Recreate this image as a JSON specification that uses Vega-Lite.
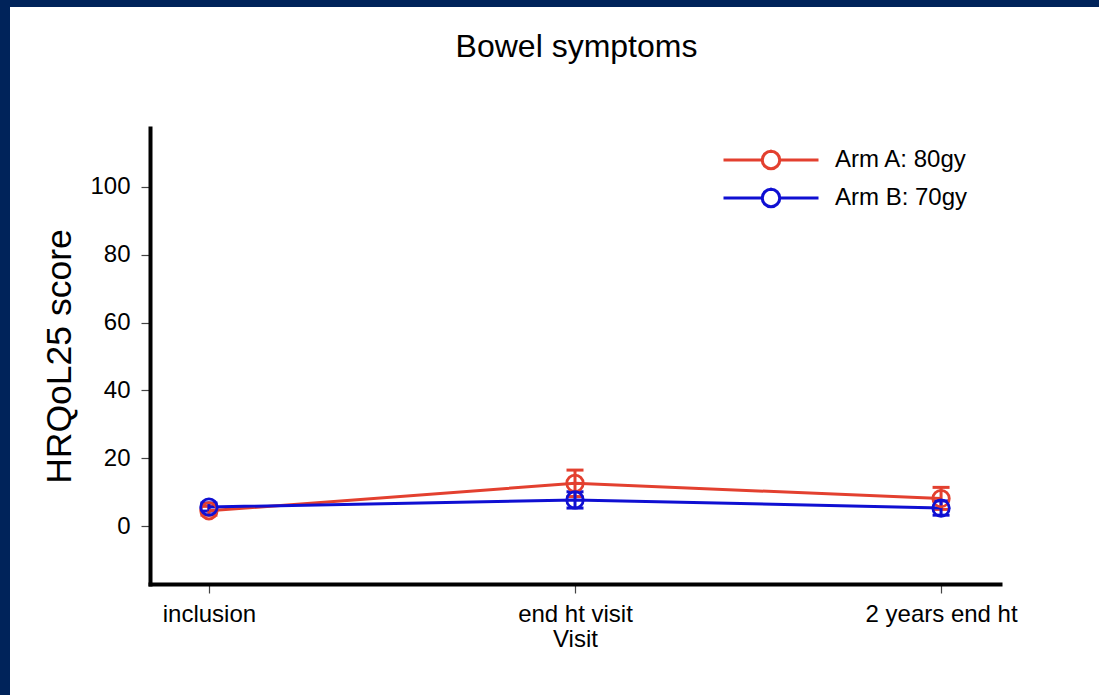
{
  "$schema": "https://vega.github.io/schema/vega-lite/v6.json",
  "width": 1089,
  "height": 688,
  "autosize": {"type": "none"},
  "padding": {"left": 10, "top": 7, "right": 0, "bottom": 0},
  "background": "#00235a",
  "view": {"fill": "white", "stroke": null},
  "title": {
    "text": "Bowel symptoms",
    "font": "Liberation Sans",
    "fontSize": 32,
    "fontWeight": "normal",
    "color": "black",
    "anchor": "middle",
    "dx": 22,
    "offset": -57
  },
  "data": {
    "values": [
      {"visit": "inclusion", "arm": "Arm A: 80gy", "mean": 4.5, "lo": 3.2, "hi": 5.8},
      {"visit": "end ht visit", "arm": "Arm A: 80gy", "mean": 12.6, "lo": 8.7, "hi": 16.5},
      {"visit": "2 years end ht", "arm": "Arm A: 80gy", "mean": 8.1, "lo": 4.9, "hi": 11.4},
      {"visit": "inclusion", "arm": "Arm B: 70gy", "mean": 5.6, "lo": 4.4, "hi": 6.8},
      {"visit": "end ht visit", "arm": "Arm B: 70gy", "mean": 7.7, "lo": 5.3, "hi": 10.1},
      {"visit": "2 years end ht", "arm": "Arm B: 70gy", "mean": 5.3, "lo": 3.2, "hi": 7.4}
    ]
  },
  "encoding": {
    "x": {
      "field": "visit",
      "type": "ordinal",
      "sort": ["inclusion", "end ht visit", "2 years end ht"],
      "scale": {"type": "point", "range": [140, 990], "padding": 0.161},
      "axis": {
        "title": "Visit",
        "offset": -111,
        "domainWidth": 4,
        "domainColor": "black",
        "domainCap": "square",
        "tickSize": 9,
        "tickColor": "#444444",
        "tickWidth": 1.2,
        "labelFont": "Liberation Sans",
        "labelFontSize": 24,
        "labelColor": "black",
        "labelPadding": 9,
        "labelAngle": 0,
        "titleFont": "Liberation Sans",
        "titleFontSize": 24,
        "titleFontWeight": "normal",
        "titleColor": "black",
        "titlePadding": 1,
        "grid": false
      }
    },
    "color": {
      "field": "arm",
      "type": "nominal",
      "scale": {"domain": ["Arm A: 80gy", "Arm B: 70gy"], "range": ["#e3402f", "#0f0fd2"]},
      "legend": {
        "orient": "none",
        "legendX": 749,
        "legendY": 141,
        "title": null,
        "padding": 0,
        "symbolType": "M-4.75,0H-0.88M0.88,0H4.75M0.88,0A0.88,0.88,0,1,1,-0.88,0A0.88,0.88,0,1,1,0.88,0ZM0.87,0A0.87,0.87,0,1,0,-0.87,0A0.87,0.87,0,1,0,0.87,0Z",
        "symbolSize": 400,
        "symbolStrokeWidth": 3,
        "symbolOpacity": 1,
        "labelFont": "Liberation Sans",
        "labelFontSize": 24,
        "labelColor": "black",
        "labelOffset": 52,
        "rowPadding": 8
      }
    }
  },
  "layer": [
    {
      "mark": {"type": "errorbar", "ticks": true, "size": 17, "thickness": 3, "opacity": 1},
      "encoding": {
        "y": {"field": "lo", "type": "quantitative", "title": "HRQoL25 score"},
        "y2": {"field": "hi"}
      }
    },
    {
      "mark": {"type": "line", "strokeWidth": 3},
      "encoding": {
        "y": {"field": "mean", "type": "quantitative", "title": "HRQoL25 score"}
      }
    },
    {
      "mark": {"type": "point", "filled": false, "size": 270, "strokeWidth": 2.8, "opacity": 1},
      "encoding": {
        "y": {
          "field": "mean",
          "type": "quantitative",
          "title": "HRQoL25 score",
          "scale": {"domain": [-17.1, 117.4], "range": [577, 121], "nice": false, "zero": false},
          "axis": {
            "title": "HRQoL25 score",
            "offset": -140,
            "values": [0, 20, 40, 60, 80, 100],
            "domainWidth": 4,
            "domainColor": "black",
            "domainCap": "square",
            "tickSize": 9,
            "tickColor": "#444444",
            "tickWidth": 1.2,
            "labelFont": "Liberation Sans",
            "labelFontSize": 24,
            "labelColor": "black",
            "labelPadding": 11,
            "titleFont": "Liberation Sans",
            "titleFontSize": 35.5,
            "titleFontWeight": "normal",
            "titleColor": "black",
            "titlePadding": 12,
            "grid": false
          }
        }
      }
    }
  ]
}
